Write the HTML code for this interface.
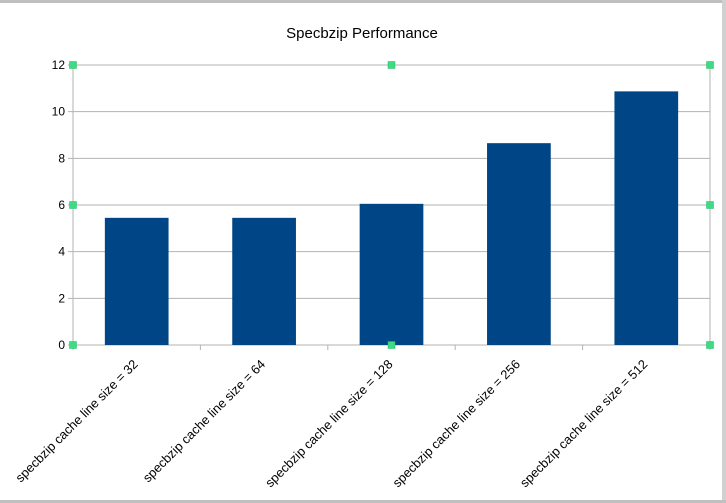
<!DOCTYPE html>
<html><head><meta charset="utf-8"><style>
html,body{margin:0;padding:0;background:#fff}
svg{display:block;font-family:"Liberation Sans",sans-serif}
</style></head><body>
<svg id="c" width="726" height="503" viewBox="0 0 726 503">
<rect x="0" y="0" width="726" height="3" fill="#c0c0c0"/>
<rect x="722" y="0" width="4" height="503" fill="#d0d0d0"/>
<rect x="0" y="500" width="726" height="3" fill="#c0c0c0"/>
<text x="362" y="38" text-anchor="middle" font-size="15" fill="#000">Specbzip Performance</text>
<g id="grid"></g><g id="bars"></g><g id="axes"></g><g id="handles"></g>
</svg>
<script>
const categories = ["specbzip cache line size = 32","specbzip cache line size = 64","specbzip cache line size = 128","specbzip cache line size = 256","specbzip cache line size = 512"];
const values = [5.45, 5.45, 6.05, 8.65, 10.87];
const yTicks = [0, 2, 4, 6, 8, 10, 12];
const NS = "http://www.w3.org/2000/svg";
const L = 73, R = 710, T = 65, B = 345, yMax = 12;
const y = v => B - (v / yMax) * (B - T);
const cw = (R - L) / categories.length;
const x = i => L + i * cw;
function mk(tag, attrs, parent) { const e = document.createElementNS(NS, tag); for (const k in attrs) e.setAttribute(k, attrs[k]); parent.appendChild(e); return e; }
const grid = document.getElementById('grid'), bars = document.getElementById('bars'), axes = document.getElementById('axes'), handles = document.getElementById('handles');
yTicks.forEach(t => {
  const g = mk('line', {x1: L - 5, x2: R, y1: y(t), y2: y(t), stroke: '#b3b3b3', 'stroke-width': 1}, grid);
  
  
  const tx = mk('text', {x: L - 8, y: y(t) + 4, 'text-anchor': 'end', 'font-size': 12, fill: '#000'}, axes);
  tx.textContent = t;
  
  
});
const la = mk('line', {x1: L, x2: L, y1: T, y2: B, stroke: '#b3b3b3'}, axes);


const ra = mk('line', {x1: R, x2: R, y1: T, y2: B, stroke: '#b3b3b3'}, axes);


for (let i = 0; i <= categories.length; i++) {
  const tk = mk('line', {x1: x(i), x2: x(i), y1: B, y2: B + 5, stroke: '#b3b3b3'}, axes);
  
  
}
categories.forEach((c, i) => {
  const bw = cw * 0.5, cx = x(i) + cw / 2;
  const b = mk('rect', {x: cx - bw / 2, y: y(values[i]), width: bw, height: B - y(values[i]), fill: '#004586'}, bars);
  
  
  const tx = mk('text', {x: 0, y: 0, 'text-anchor': 'end', 'font-size': 12.8, fill: '#000', transform: `translate(${cx + 2},${B + 20}) rotate(-45)`}, axes);
  tx.textContent = c;
  
  
});
[[L,T],[(L+R)/2,T],[R,T],[L,(T+B)/2],[R,(T+B)/2],[L,B],[(L+R)/2,B],[R,B]].forEach(p => {
  const h = mk('rect', {x: p[0] - 3.5, y: p[1] - 3.5, width: 7, height: 7, fill: '#3ddc84', stroke: '#2db56a', 'stroke-width': 0.5}, handles);
  
  
});
</script>
</body></html>
